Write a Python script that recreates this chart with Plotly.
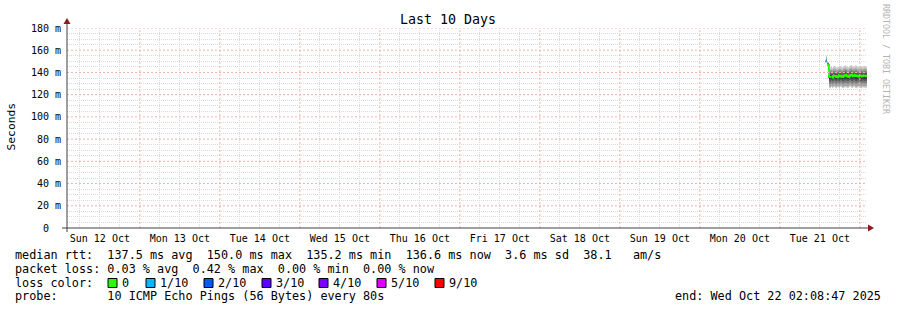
import plotly.graph_objects as go
import pandas as pd

# ---------------- data ----------------
end_time = pd.Timestamp("2025-10-22 02:08:47")
start_time = pd.Timestamp("2025-10-12 02:08:47")
step_seconds = 1080

median = [150.0, 150.0, 147.5, 147.0,
          136.0, 135.8, 136.2, 135.5, 136.5, 137.2, 136.8, 136.0, 135.6, 136.4,
          137.5, 137.0, 136.2, 135.8, 136.6, 137.4, 137.8, 137.0, 136.3, 135.9,
          136.8, 137.6, 138.0, 137.2, 136.5, 136.9, 137.7, 137.3, 136.6, 136.2,
          137.0, 137.6, 137.1, 136.4, 136.8, 137.3, 136.9, 136.6]
lost = [1, 1, 0, 0,
        0, 0, 1, 0, 0, 0, 0, 0, 0, 0,
        0, 0, 0, 0, 0, 0, 0, 0, 0, 0,
        0, 0, 0, 0, 0, 0, 0, 0, 0, 0,
        0, 0, 0, 0, 0, 0, 0, 0]

ping1 = [150.0, 149.0, 145.5, 134.5,
         126.0, 125.5, 126.8, 125.8, 126.5, 127.0, 126.2, 125.6, 126.9, 126.3,
         125.9, 126.6, 127.2, 126.0, 125.7, 126.4, 127.0, 126.5, 125.8, 126.2,
         126.9, 127.3, 126.4, 125.9, 126.7, 127.1, 126.2, 125.6, 126.3, 126.8,
         127.0, 126.1, 125.8, 126.5, 126.9, 126.3, 125.9, 126.4]
ping2 = [150.0, 149.5, 146.0, 134.8,
         127.4, 127.0, 128.1, 127.2, 127.8, 128.3, 127.5, 127.1, 128.2, 127.6,
         127.3, 128.0, 128.5, 127.4, 127.0, 127.8, 128.4, 127.9, 127.2, 127.6,
         128.2, 128.6, 127.7, 127.3, 128.0, 128.4, 127.6, 127.0, 127.7, 128.1,
         128.3, 127.5, 127.2, 127.9, 128.2, 127.6, 127.3, 127.8]
ping3 = [150.0, 150.0, 146.5, 135.0,
         129.9, 129.6, 130.7, 129.8, 130.3, 130.9, 130.1, 129.7, 130.8, 130.2,
         129.9, 130.6, 131.1, 130.0, 129.6, 130.4, 131.0, 130.5, 129.8, 130.2,
         130.8, 131.2, 130.3, 129.9, 130.6, 131.0, 130.2, 129.6, 130.3, 130.7,
         130.9, 130.1, 129.8, 130.5, 130.8, 130.2, 129.9, 130.4]
ping4 = [150.0, 150.0, 147.0, 135.2,
         132.1, 131.9, 132.9, 132.0, 132.5, 133.1, 132.3, 131.9, 133.0, 132.4,
         132.1, 132.8, 133.3, 132.2, 131.8, 132.6, 133.2, 132.7, 132.0, 132.4,
         133.0, 133.4, 132.5, 132.1, 132.8, 133.2, 132.4, 131.8, 132.5, 132.9,
         133.1, 132.3, 132.0, 132.7, 133.0, 132.4, 132.1, 132.6]
ping5 = [150.0, 150.0, 147.2, 135.5,
         134.1, 133.9, 134.8, 134.0, 134.5, 135.1, 134.3, 133.8, 134.9, 134.4,
         134.1, 134.7, 135.3, 134.2, 133.8, 134.6, 135.2, 134.7, 134.0, 134.4,
         135.0, 135.4, 134.5, 134.1, 134.8, 135.2, 134.4, 133.8, 134.5, 134.9,
         135.1, 134.3, 134.0, 134.7, 135.0, 134.4, 134.1, 134.6]
ping6 = [150.0, 150.0, 147.8, 148.0,
         137.2, 137.0, 137.4, 136.7, 137.6, 138.3, 137.9, 137.2, 136.8, 137.5,
         138.6, 138.1, 137.4, 136.9, 137.7, 138.5, 138.9, 138.1, 137.4, 137.1,
         137.9, 138.7, 139.1, 138.3, 137.6, 138.0, 138.8, 138.4, 137.7, 137.3,
         138.1, 138.7, 138.2, 137.5, 137.9, 138.4, 138.0, 137.7]
ping7 = [150.0, 151.0, 148.0, 148.3,
         139.0, 138.8, 139.3, 138.6, 139.4, 140.0, 139.6, 139.0, 138.7, 139.3,
         140.2, 139.8, 139.2, 138.8, 139.5, 140.1, 140.5, 139.8, 139.2, 138.9,
         139.7, 140.3, 140.7, 139.9, 139.3, 139.7, 140.4, 140.0, 139.4, 139.1,
         139.8, 140.3, 139.9, 139.2, 139.6, 140.0, 139.7, 139.4]
ping8 = [150.0, 152.0, 148.5, 148.6,
         140.7, 140.4, 141.0, 140.2, 141.1, 141.7, 141.2, 140.6, 140.3, 141.0,
         141.8, 141.4, 140.8, 140.4, 141.2, 141.8, 142.1, 141.5, 140.9, 140.5,
         141.4, 142.0, 142.3, 141.6, 141.0, 141.4, 142.0, 141.7, 141.1, 140.8,
         141.5, 141.9, 141.5, 140.9, 141.3, 141.7, 141.4, 141.1]
ping9 = [150.0, 153.5, 149.0, 149.0,
         142.6, 142.2, 142.9, 142.1, 143.0, 143.5, 143.1, 142.4, 142.2, 142.9,
         143.6, 143.2, 142.7, 142.3, 143.1, 143.7, 144.0, 143.3, 142.8, 142.4,
         143.3, 143.9, 144.2, 143.4, 142.9, 143.3, 143.9, 143.6, 143.0, 142.7,
         143.4, 143.8, 143.4, 142.8, 143.2, 143.6, 143.3, 143.0]
ping10 = [150.0, 155.0, 149.5, 149.5,
          145.0, 144.4, 145.5, 144.2, 145.3, 146.0, 145.4, 144.7, 144.3, 145.2,
          146.1, 145.5, 144.9, 144.5, 145.4, 146.1, 146.5, 145.6, 145.0, 144.6,
          145.7, 146.3, 146.7, 145.8, 145.1, 145.6, 146.4, 146.0, 145.2, 144.8,
          145.8, 146.2, 145.7, 145.0, 145.5, 146.0, 145.6, 145.2]

loss_labels = ["0", "1/10", "2/10", "3/10", "4/10", "5/10", "9/10"]
loss_values = [0, 1, 2, 3, 4, 5, 9]
loss_colors = ["#26ff00", "#00b8ff", "#0059ff", "#5e00ff", "#7e00ff", "#dd00ff", "#ff0000"]
smoke_colors = ["#cacaca", "#a4a4a4", "#7e7e7e", "#585858", "#323232"]

y_ticks = [0, 20, 40, 60, 80, 100, 120, 140, 160, 180]
y_ticktext = ["0\u00a0\u00a0"] + [f"{v}\u00a0m" for v in y_ticks[1:]]
y_minor = [v for v in range(0, 181, 5) if v % 20 != 0]

legend_lines = [
    "median rtt:  137.5 ms avg  150.0 ms max  135.2 ms min  136.6 ms now  3.6 ms sd  38.1   am/s",
    "packet loss: 0.03 % avg  0.42 % max  0.00 % min  0.00 % now",
    "loss color:",
    "probe:       10 ICMP Echo Pings (56 Bytes) every 80s",
]
end_text = "end: Wed Oct 22 02:08:47 2025"

# ---------------- geometry helpers (pixel -> paper) ----------------
W, H = 897, 310
L, R, T, B = 67, 30, 28, 82
PW, PH = W - L - R, H - T - B
FONT = "DejaVu Sans Mono"
PAD = 3  # annotation inner padding in px


def px(x):
    return (x - L) / PW


def py(y):
    return (H - B - y) / PH


def nb(s):
    return s.replace(" ", "\u00a0")


step = pd.Timedelta(seconds=step_seconds)
n = len(median)
ends = [end_time - (n - 1 - i) * step for i in range(n)]

# day (major) and 6-hour (minor) grid positions
day0 = pd.Timestamp("2025-10-12 00:00:00")
x_minor = [day0 + pd.Timedelta(hours=h) for h in range(0, 24 * 11, 6) if h % 24 != 0]
x_major = [day0 + pd.Timedelta(days=d) for d in range(1, 11)]

fig = go.Figure()

# smoke
pings = [ping1, ping2, ping3, ping4, ping5, ping6, ping7, ping8, ping9, ping10]
for k in range(5):
    lo_arr, hi_arr = pings[k], pings[9 - k]
    xs, lo, hi = [], [], []
    for i in range(n):
        xs += [ends[i] - step, ends[i]]
        lo += [lo_arr[i], lo_arr[i]]
        hi += [hi_arr[i], hi_arr[i]]
    fig.add_trace(go.Scatter(x=xs, y=lo, mode="lines", line=dict(width=0),
                             hoverinfo="skip", showlegend=False))
    fig.add_trace(go.Scatter(x=xs, y=hi, mode="lines", line=dict(width=0),
                             fill="tonexty", fillcolor=smoke_colors[k],
                             hoverinfo="skip", showlegend=False))

# median line coloured by loss
for loss_val, col in zip(loss_values, loss_colors):
    xs, ys = [], []
    for i in range(n):
        if lost[i] != loss_val:
            continue
        if i > 0 and lost[i - 1] == loss_val:
            xs += [ends[i - 1], ends[i]]
            ys += [median[i], median[i]]
        else:
            if xs:
                xs.append(None)
                ys.append(None)
            xs += [ends[i] - step, ends[i]]
            ys += [median[i], median[i]]
    if xs:
        fig.add_trace(go.Scatter(x=xs, y=ys, mode="lines",
                                 line=dict(color=col, width=2),
                                 hoverinfo="skip", showlegend=False))

annotations = []
shapes = []

major_grid = "#f4b0b0"
minor_grid = "#dadada"

# major grid (drawn above the data, as rrdtool does)
for xv in x_major:
    shapes.append(dict(type="line", xref="x", yref="paper", x0=xv, x1=xv, y0=0, y1=1,
                       layer="above", line=dict(color=major_grid, width=1, dash="2px,2px")))
for yv in y_ticks[1:]:
    shapes.append(dict(type="line", xref="paper", yref="y", x0=0, x1=1, y0=yv, y1=yv,
                       layer="above", line=dict(color=major_grid, width=1, dash="2px,2px")))

# title
annotations.append(dict(x=px(448), y=py(19), xref="paper", yref="paper",
                        text=nb("Last 10 Days"), showarrow=False,
                        font=dict(family=FONT, size=13.3, color="black"),
                        xanchor="center", yanchor="middle"))
# y title
annotations.append(dict(x=px(10.5), y=py(127), xref="paper", yref="paper",
                        text="Seconds", showarrow=False, textangle=-90,
                        font=dict(family=FONT, size=11.3, color="black"),
                        xanchor="center", yanchor="middle"))
# watermark
annotations.append(dict(x=px(886), y=py(59), xref="paper", yref="paper",
                        text=nb("RRDTOOL / TOBI OETIKER"), showarrow=False, textangle=90,
                        font=dict(family=FONT, size=8.3, color="#b4b4b4"),
                        xanchor="center", yanchor="middle"))

# legend lines
LEG_SIZE = 11.8
line_y = [255, 269, 283, 296]
for txt, yy in zip(legend_lines, line_y):
    annotations.append(dict(x=px(16 - PAD), y=py(yy), xref="paper", yref="paper",
                            text=nb(txt), showarrow=False,
                            font=dict(family=FONT, size=LEG_SIZE, color="black"),
                            xanchor="left", yanchor="middle"))
annotations.append(dict(x=px(880 + PAD), y=py(296), xref="paper", yref="paper",
                        text=nb(end_text), showarrow=False,
                        font=dict(family=FONT, size=LEG_SIZE, color="black"),
                        xanchor="right", yanchor="middle"))

box_left = [108, 146, 204, 262, 319, 377, 435]
for bl, lab, col in zip(box_left, loss_labels, loss_colors):
    shapes.append(dict(type="rect", xref="paper", yref="paper",
                       x0=px(bl), x1=px(bl + 9), y0=py(278.5), y1=py(287.5),
                       fillcolor=col, line=dict(color="black", width=1)))
    annotations.append(dict(x=px(bl + 15 - PAD), y=py(283), xref="paper", yref="paper",
                            text=nb(lab), showarrow=False,
                            font=dict(family=FONT, size=LEG_SIZE, color="black"),
                            xanchor="left", yanchor="middle"))

# axes lines and arrows
axis_col = "#404040"
arrow_col = "#8b1a1a"
shapes.append(dict(type="line", xref="paper", yref="paper",
                   x0=px(62), x1=px(868), y0=py(228), y1=py(228),
                   line=dict(color=axis_col, width=1)))
shapes.append(dict(type="line", xref="paper", yref="paper",
                   x0=px(67), x1=px(67), y0=py(232), y1=py(22),
                   line=dict(color=axis_col, width=1)))
shapes.append(dict(type="path", xref="paper", yref="paper",
                   path=f"M {px(868)},{py(224.5)} L {px(874)},{py(228)} L {px(868)},{py(231.5)} Z",
                   fillcolor=arrow_col, line=dict(color=arrow_col, width=0)))
shapes.append(dict(type="path", xref="paper", yref="paper",
                   path=f"M {px(63.5)},{py(24)} L {px(67)},{py(18)} L {px(70.5)},{py(24)} Z",
                   fillcolor=arrow_col, line=dict(color=arrow_col, width=0)))

fig.update_layout(
    width=W, height=H,
    margin=dict(l=L, r=R, t=T, b=B, pad=0),
    paper_bgcolor="white", plot_bgcolor="white",
    showlegend=False,
    font=dict(family=FONT, size=10, color="black"),
    annotations=annotations,
    shapes=shapes,
    xaxis=dict(
        type="date",
        range=[start_time, end_time],
        tick0="2025-10-12 00:00:00",
        dtick=86400000,
        ticklabelmode="period",
        tickformat="%a %d %b",
        ticks="",
        showline=False,
        zeroline=False,
        showgrid=False,
        minor=dict(tickmode="array", tickvals=x_minor,
                   showgrid=True, gridcolor=minor_grid, griddash="1px,1px", gridwidth=1),
        tickfont=dict(family=FONT, size=10, color="black"),
        ticklabelstandoff=3,
        fixedrange=True,
    ),
    yaxis=dict(
        range=[0, 180],
        tickmode="array", tickvals=y_ticks, ticktext=y_ticktext,
        ticks="",
        showline=False,
        zeroline=False,
        showgrid=False,
        minor=dict(tickmode="array", tickvals=y_minor,
                   showgrid=True, gridcolor=minor_grid, griddash="1px,1px", gridwidth=1),
        tickfont=dict(family=FONT, size=10, color="black"),
        ticklabelstandoff=5,
        fixedrange=True,
    ),
)

fig.write_html("out.html")
